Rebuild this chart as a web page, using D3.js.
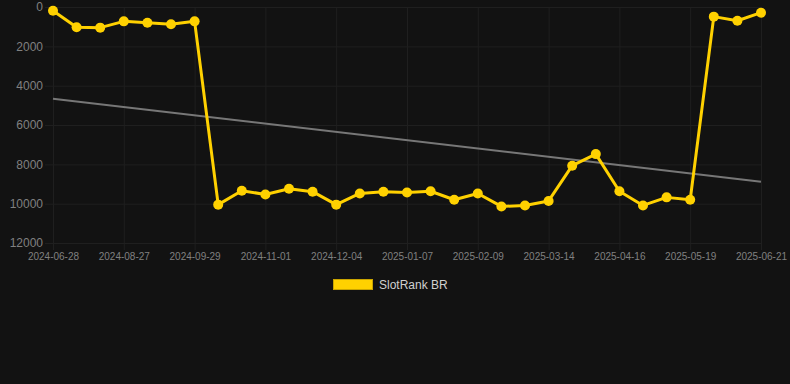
<!DOCTYPE html>
<html>
<head>
<meta charset="utf-8">
<script src="https://cdn.jsdelivr.net/npm/d3@7"></script>
<style>
  html, body { margin: 0; padding: 0; background: #121212; }
  svg { display: block; font-family: "Liberation Sans", Arial, sans-serif; }
</style>
</head>
<body>
<div id="chart"></div>
<script>
const lineColor = "#FFD100";

// dates of each sample (category axis, every third one is labelled)
const dates = [
  "2024-06-28", "2024-07-18", "2024-08-07", "2024-08-27", "2024-09-07", "2024-09-18",
  "2024-09-29", "2024-10-10", "2024-10-21", "2024-11-01", "2024-11-12", "2024-11-23",
  "2024-12-04", "2024-12-15", "2024-12-26", "2025-01-07", "2025-01-18", "2025-01-29",
  "2025-02-09", "2025-02-20", "2025-03-03", "2025-03-14", "2025-03-25", "2025-04-05",
  "2025-04-16", "2025-04-27", "2025-05-08", "2025-05-19", "2025-05-30", "2025-06-10",
  "2025-06-21"
];

const rankBR = [
  190, 1030, 1050, 730, 800, 880, 730,
  10050, 9340, 9530, 9240, 9390, 10050, 9480, 9390, 9430, 9370, 9800,
  9480, 10140, 10090, 9860, 8070, 7480, 9370, 10090, 9680, 9800,
  490, 700, 290
];

// trend line, value at the first and at the last date
const trendBR = [4670, 8880];

const yTicks = [0, 2000, 4000, 6000, 8000, 10000, 12000];
const seriesName = "SlotRank BR";

const svgWidth = 790;
const svgHeight = 384;
const margin = { top: 7, right: 29, bottom: 141, left: 53 };
const width = svgWidth - margin.left - margin.right;
const height = svgHeight - margin.top - margin.bottom;

const svg = d3.select("#chart")
  .append("svg")
  .attr("width", svgWidth)
  .attr("height", svgHeight);

svg.append("rect")
  .attr("width", svgWidth)
  .attr("height", svgHeight)
  .attr("fill", "#121212");

const g = svg.append("g")
  .attr("transform", `translate(${margin.left},${margin.top})`);

// scales
const xScale = d3.scalePoint()
  .domain(dates)
  .range([0, width]);

const yScale = d3.scaleLinear()
  .domain([0, 12000])
  .range([0, height]);

const labelDates = dates.filter((d, i) => i % 3 === 0);

// grid
const xGrid = d3.axisBottom(xScale)
  .tickValues(labelDates)
  .tickSize(-height)
  .tickFormat("");

const xGridEl = g.append("g")
  .attr("transform", `translate(0,${height})`)
  .call(xGrid);
xGridEl.select(".domain").remove();
xGridEl.selectAll(".tick line")
  .attr("stroke", "#1f1f1f")
  .attr("y1", 7);

const yGrid = d3.axisLeft(yScale)
  .tickValues(yTicks)
  .tickSize(-width)
  .tickFormat("");

const yGridEl = g.append("g").call(yGrid);
yGridEl.select(".domain").remove();
yGridEl.selectAll(".tick line")
  .attr("stroke", "#1f1f1f")
  .attr("x1", -8);

// x axis labels
const xAxis = d3.axisBottom(xScale)
  .tickValues(labelDates)
  .tickSize(0)
  .tickPadding(10);

const xAxisEl = g.append("g")
  .attr("transform", `translate(0,${height})`)
  .call(xAxis);
xAxisEl.select(".domain").remove();
xAxisEl.selectAll(".tick text")
  .attr("fill", "#808080")
  .style("font-size", "10px")
  .style("font-family", "Liberation Sans, Arial, sans-serif");

// y axis labels
const yAxis = d3.axisLeft(yScale)
  .tickValues(yTicks)
  .tickSize(0)
  .tickPadding(10)
  .tickFormat(d3.format("d"));

const yAxisEl = g.append("g").call(yAxis);
yAxisEl.select(".domain").remove();
yAxisEl.selectAll(".tick text")
  .attr("fill", "#808080")
  .style("font-size", "12px")
  .style("font-family", "Liberation Sans, Arial, sans-serif");

// trend line
const trend = [
  { date: dates[0], value: trendBR[0] },
  { date: dates[dates.length - 1], value: trendBR[1] }
];

g.append("path")
  .datum(trend)
  .attr("fill", "none")
  .attr("stroke", "#777777")
  .attr("stroke-width", 2)
  .attr("d", d3.line().x(d => xScale(d.date)).y(d => yScale(d.value)));

// series
const series = dates.map((d, i) => ({ date: d, value: rankBR[i] }));

g.append("path")
  .datum(series)
  .attr("fill", "none")
  .attr("stroke", lineColor)
  .attr("stroke-width", 3)
  .attr("stroke-linejoin", "round")
  .attr("d", d3.line().x(d => xScale(d.date)).y(d => yScale(d.value)));

g.selectAll(".data-point")
  .data(series)
  .enter()
  .append("circle")
  .attr("class", "data-point")
  .attr("cx", d => xScale(d.date))
  .attr("cy", d => yScale(d.value))
  .attr("r", 5)
  .attr("fill", lineColor);

// legend
const legend = svg.append("g")
  .attr("transform", "translate(333,279)");

legend.append("rect")
  .attr("x", 0.5)
  .attr("y", 0.5)
  .attr("width", 39)
  .attr("height", 10)
  .attr("fill", lineColor)
  .attr("stroke", "#C9A400")
  .attr("stroke-width", 1);

legend.append("text")
  .attr("x", 46)
  .attr("y", 10)
  .attr("fill", "#d0d0d0")
  .style("font-size", "12px")
  .text(seriesName);
</script>
</body>
</html>
